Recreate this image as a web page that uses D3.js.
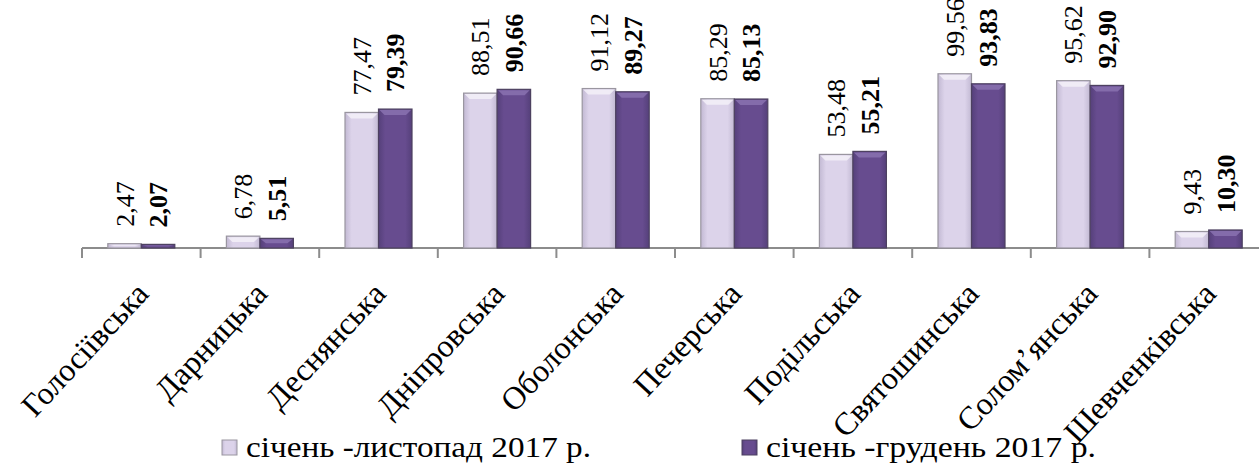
<!DOCTYPE html>
<html>
<head>
	<meta charset="utf-8">
	<title>Bar Chart</title>
	<script src="https://d3js.org/d3.v7.min.js" charset="utf-8"></script>
	<style>
		body { margin: 0; background: #fff; }
		svg text { font-family: "Liberation Serif", "Times New Roman", serif; fill: #000; }
	</style>
</head>
<body>
	<svg width="1259" height="464"></svg>
	<script>
		var districts = ['Голосіївська', 'Дарницька', 'Деснянська', 'Дніпровська', 'Оболонська',
			'Печерська', 'Подільська', 'Святошинська', 'Солом’янська', 'Шевченківська'];
		var novValues = [2.47, 6.78, 77.47, 88.51, 91.12, 85.29, 53.48, 99.56, 95.62, 9.43];
		var decValues = [2.07, 5.51, 79.39, 90.66, 89.27, 85.13, 55.21, 93.83, 92.90, 10.30];
		var seriesNames = ['січень -листопад 2017 р.', 'січень -грудень 2017 р.'];

		const baseY = 248;
		var svg = d3.select('svg');
		var fmt = function(v) { return v.toFixed(2).replace('.', ','); };

		// gradients for the bevelled bars
		var defs = svg.append('defs');
		function hGrad(id, edge, mid) {
			var g = defs.append('linearGradient').attr('id', id).attr('x1', 0).attr('x2', 1).attr('y1', 0).attr('y2', 0);
			g.append('stop').attr('offset', '0%').attr('stop-color', edge);
			g.append('stop').attr('offset', '20%').attr('stop-color', mid);
			g.append('stop').attr('offset', '80%').attr('stop-color', mid);
			g.append('stop').attr('offset', '100%').attr('stop-color', edge);
		}
		hGrad('gLight', '#c2b9d3', '#dcd3ea');
		hGrad('gDark', '#55407a', '#674c8f');
		var colors = ['url(#gLight)', 'url(#gDark)'];
		var topColors = ['#f3f0f8', '#8a72b0'];
		var strokes = ['#9a96a0', '#4d4160'];

		const xScale = d3.scaleBand()
			.domain(districts)
			.range([82, 82 + 118.6 * districts.length])
			.paddingInner(0.435)
			.paddingOuter(0.2175);

		const xInner = d3.scaleBand()
			.domain([0, 1])
			.range([0, xScale.bandwidth()]);

		const yScale = d3.scaleLinear()
			.domain([0, 100])
			.range([baseY, 73]);

		var rows = districts.map(function(d, i) {
			return { name: d, vals: [novValues[i], decValues[i]] };
		});

		// axis line and ticks
		svg.append('line')
			.attr('x1', 82).attr('x2', 1259)
			.attr('y1', baseY).attr('y2', baseY)
			.attr('stroke', '#8c8c8c').attr('stroke-width', 2);
		var step = xScale.step();
		svg.selectAll('.tick')
			.data(districts)
			.enter()
			.append('line')
			.attr('x1', (d) => xScale(d) - step * 0.2175)
			.attr('x2', (d) => xScale(d) - step * 0.2175)
			.attr('y1', baseY).attr('y2', baseY + 10)
			.attr('stroke', '#8c8c8c').attr('stroke-width', 2);

		var groups = svg.selectAll('.grp')
			.data(rows)
			.enter()
			.append('g')
			.attr('transform', (d) => `translate(${xScale(d.name)}, 0)`);

		var bars = groups.selectAll('.bar')
			.data((d) => d.vals.map(function(v, k) { return { v: v, k: k }; }))
			.enter()
			.append('g');

		bars.append('rect')
			.attr('x', (s) => xInner(s.k))
			.attr('y', (s) => yScale(s.v))
			.attr('width', xInner.bandwidth())
			.attr('height', (s) => baseY - yScale(s.v))
			.attr('fill', (s) => colors[s.k])
			.attr('stroke', (s) => strokes[s.k])
			.attr('stroke-width', 1.2);

		// top bevel
		bars.append('path')
			.attr('d', function(s) {
				var x = xInner(s.k), w = xInner.bandwidth(), y = yScale(s.v);
				var h = Math.min(6, (baseY - y) / 2);
				return `M${x + 1},${y + 1} L${x + w - 1},${y + 1} L${x + w - 6},${y + h} L${x + 6},${y + h} Z`;
			})
			.attr('fill', (s) => topColors[s.k])
			.attr('opacity', 0.85);

		// value labels
		bars.append('text')
			.attr('transform', (s) => `translate(${xInner(s.k) + xInner.bandwidth() / 2}, ${yScale(s.v) - 17}) rotate(-90)`)
			.attr('dy', '0.35em')
			.attr('font-family', 'Liberation Serif')
			.style('font-size', '26px')
			.style('font-weight', (s) => s.k === 1 ? 'bold' : 'normal')
			.text((s) => fmt(s.v));

		// category labels
		svg.selectAll('.cat')
			.data(districts)
			.enter()
			.append('text')
			.attr('transform', (d) => `translate(${xScale(d) + xScale.bandwidth() / 2 + 9}, 295) rotate(-47)`)
			.attr('text-anchor', 'end')
			.attr('font-family', 'Liberation Serif')
			.style('font-size', '32px')
			.text((d) => d);

		// legend
		var legendX = [222, 742];
		var legendLen = [345, 330];
		var leg = svg.selectAll('.leg')
			.data(seriesNames)
			.enter()
			.append('g')
			.attr('transform', (d, i) => `translate(${legendX[i]}, 440)`);
		leg.append('rect')
			.attr('width', 15).attr('height', 15)
			.attr('fill', (d, i) => colors[i])
			.attr('stroke', (d, i) => strokes[i]);
		leg.append('text')
			.attr('x', 24).attr('y', 17)
			.attr('font-family', 'Liberation Serif')
			.attr('textLength', (d, i) => legendLen[i])
			.attr('lengthAdjust', 'spacingAndGlyphs')
			.style('font-size', '30px')
			.text((d) => d);
	</script>
</body>
</html>
